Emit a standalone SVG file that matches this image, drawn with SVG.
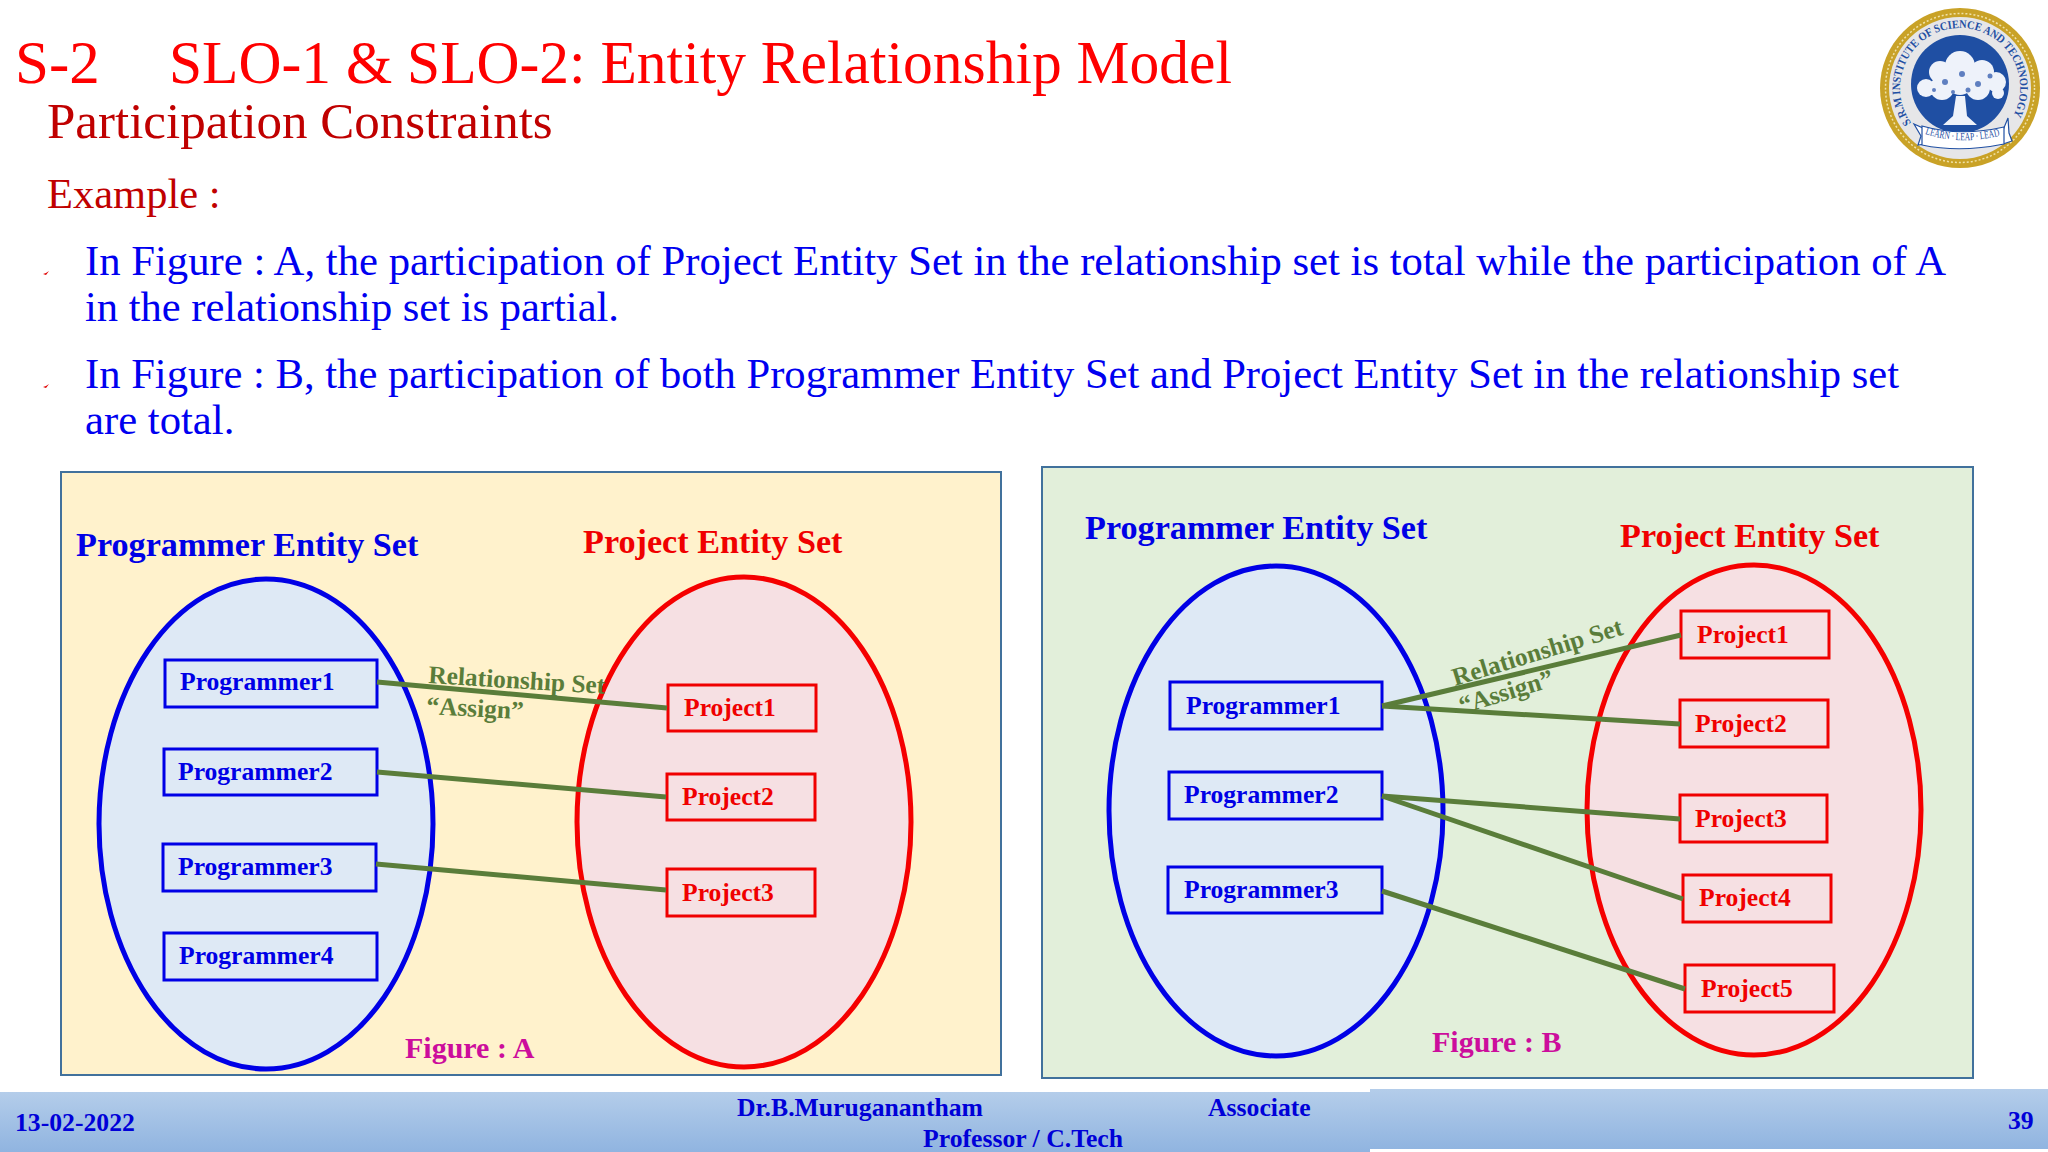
<svg xmlns="http://www.w3.org/2000/svg" width="2048" height="1152" viewBox="0 0 2048 1152">
<style>
text{font-family:"Liberation Serif","Times New Roman",serif}
.t{fill:#fe0000;font-size:61px}
.s{fill:#c00000;font-size:51px}
.e{fill:#c00000;font-size:42.5px}
.b{fill:#0000f0;font-size:42.7px}
.h{font-size:34.2px;font-weight:bold}
.n{font-size:25.6px;font-weight:bold}
.bl{fill:#0000e6}.rd{fill:#f00000}
.pe{fill:#dee9f5;stroke:#0000e6;stroke-width:5}
.re{fill:#f6e0e3;stroke:#f50000;stroke-width:5}
.pb{fill:none;stroke:#0000e6;stroke-width:3}
.rb{fill:none;stroke:#f00000;stroke-width:3}
.c{stroke:#5a7d3a;stroke-width:5;fill:none}
.lab{fill:#5a7d3a;font-size:25.4px;font-weight:bold}
.fig{fill:#cc0d9c;font-size:30px;font-weight:bold}
.f{fill:#0000d8;font-size:25.7px;font-weight:bold}
.panel{stroke:#41719c;stroke-width:2}
</style>
<defs>
<linearGradient id="fg" x1="0" y1="0" x2="0" y2="1"><stop offset="0" stop-color="#b4cdea"/><stop offset="1" stop-color="#90b4e0"/></linearGradient>
<path id="arc" d="M1911.2 122.8A60 60 0 1 1 2012 118"/>
<path id="rib" d="M1925 134Q1962 146 2003 135"/>
</defs>
<rect width="2048" height="1152" fill="#fff"/>
<g id="header">
<text class="t" x="15" y="83">S-2</text>
<text class="t" x="169" y="83" textLength="1063" lengthAdjust="spacingAndGlyphs">SLO-1 &amp; SLO-2: Entity Relationship Model</text>
<text class="s" x="47" y="138">Participation Constraints</text>
<text class="e" x="47" y="208">Example :</text>
<path d="M43 274l3 1 3-4-3 2z" fill="#e00000"/>
<path d="M43 387l3 1 3-4-3 2z" fill="#e00000"/>
<text class="b" x="85" y="275" textLength="1861" lengthAdjust="spacingAndGlyphs">In Figure : A, the participation of Project Entity Set in the relationship set is total while the participation of A</text>
<text class="b" x="85" y="321" textLength="534" lengthAdjust="spacingAndGlyphs">in the relationship set is partial.</text>
<text class="b" x="85" y="388" textLength="1814" lengthAdjust="spacingAndGlyphs">In Figure : B, the participation of both Programmer Entity Set and Project Entity Set in the relationship set</text>
<text class="b" x="85" y="434">are total.</text>
</g>
<g id="logo">
<circle cx="1960" cy="88" r="80" fill="#c9a227"/>
<circle cx="1960" cy="88" r="74.5" fill="none" stroke="#f0e2a8" stroke-width="1.5" stroke-dasharray="2 2"/>
<circle cx="1960" cy="88" r="71" fill="#e6e6e8"/>
<circle cx="1960" cy="84" r="49" fill="#1f4fa3"/>
<g fill="#eef2fa">
<circle cx="1960" cy="66" r="15"/><circle cx="1940" cy="72" r="11"/><circle cx="1982" cy="72" r="12"/><circle cx="1926" cy="88" r="9"/><circle cx="1996" cy="82" r="10"/><circle cx="1942" cy="88" r="12"/><circle cx="1978" cy="88" r="12"/><circle cx="1960" cy="82" r="13"/><circle cx="1998" cy="93" r="6"/>
<path d="M1956 96h9l2 20 10 9h-34l10-9z"/>
</g>
<g fill="#5f7fc0"><circle cx="1945" cy="82" r="3"/><circle cx="1962" cy="74" r="3"/><circle cx="1978" cy="84" r="3"/><circle cx="1934" cy="90" r="2"/><circle cx="1990" cy="76" r="2.5"/><circle cx="1953" cy="92" r="2"/><circle cx="1968" cy="90" r="2.5"/></g>
<path d="M1914 124l11 5v15l-7 1 3-9z" fill="#fff" stroke="#1f4fa3" stroke-width="1.2"/>
<path d="M2008 118l-5 12v14l9-3-3-8z" fill="#fff" stroke="#1f4fa3" stroke-width="1.2"/>
<path d="M1922 126q38 11 82 1v17q-44 9-82 1z" fill="#fff" stroke="#1f4fa3" stroke-width="1.2"/>
<text fill="#1f4fa3" style="font-size:11px"><textPath href="#rib" textLength="76" lengthAdjust="spacingAndGlyphs">LEARN · LEAP · LEAD</textPath></text>
<text fill="#1f4fa3" font-weight="bold" style="font-size:11.5px"><textPath href="#arc" textLength="254" lengthAdjust="spacingAndGlyphs">S.R.M INSTITUTE OF SCIENCE AND TECHNOLOGY</textPath></text>
</g>
<g id="figure-a">
<rect class="panel" x="61" y="472" width="940" height="603" fill="#fff2cc"/>
<text class="h bl" x="76" y="556">Programmer Entity Set</text>
<text class="h rd" x="583" y="553">Project Entity Set</text>
<text class="fig" x="405" y="1058">Figure : A</text>
<g id="a-programmer-set"><ellipse class="pe" cx="266" cy="824" rx="167" ry="245"/></g>
<g id="a-project-set"><ellipse class="re" cx="744" cy="822" rx="167" ry="245"/></g>
<g id="a-programmer1"><rect class="pb" x="165" y="660" width="212" height="47"/><text class="n bl" x="180" y="690">Programmer1</text></g>
<g id="a-programmer2"><rect class="pb" x="164" y="749" width="213" height="46"/><text class="n bl" x="178" y="780">Programmer2</text></g>
<g id="a-programmer3"><rect class="pb" x="163" y="844" width="213" height="47"/><text class="n bl" x="178" y="875">Programmer3</text></g>
<g id="a-programmer4"><rect class="pb" x="164" y="933" width="213" height="47"/><text class="n bl" x="179" y="964">Programmer4</text></g>
<g id="a-project1"><rect class="rb" x="668" y="685" width="148" height="46"/><text class="n rd" x="684" y="716">Project1</text></g>
<g id="a-project2"><rect class="rb" x="667" y="774" width="148" height="46"/><text class="n rd" x="682" y="805">Project2</text></g>
<g id="a-project3"><rect class="rb" x="667" y="869" width="148" height="47"/><text class="n rd" x="682" y="901">Project3</text></g>
<text class="lab" transform="translate(428 683) rotate(3.5)">Relationship Set</text>
<text class="lab" transform="translate(426 714) rotate(3)">“Assign”</text>
</g>
<g id="figure-b">
<rect class="panel" x="1042" y="467" width="931" height="611" fill="#e2efda"/>
<text class="h bl" x="1085" y="539">Programmer Entity Set</text>
<text class="h rd" x="1620" y="547">Project Entity Set</text>
<text class="fig" x="1432" y="1052">Figure : B</text>
<g id="b-programmer-set"><ellipse class="pe" cx="1276" cy="811" rx="167" ry="245"/></g>
<g id="b-project-set"><ellipse class="re" cx="1754" cy="810" rx="167" ry="245"/></g>
<g id="b-programmer1"><rect class="pb" x="1170" y="682" width="212" height="47"/><text class="n bl" x="1186" y="714">Programmer1</text></g>
<g id="b-programmer2"><rect class="pb" x="1169" y="772" width="213" height="47"/><text class="n bl" x="1184" y="803">Programmer2</text></g>
<g id="b-programmer3"><rect class="pb" x="1168" y="867" width="214" height="46"/><text class="n bl" x="1184" y="898">Programmer3</text></g>
<g id="b-project1"><rect class="rb" x="1681" y="611" width="148" height="47"/><text class="n rd" x="1697" y="643">Project1</text></g>
<g id="b-project2"><rect class="rb" x="1680" y="700" width="148" height="47"/><text class="n rd" x="1695" y="732">Project2</text></g>
<g id="b-project3"><rect class="rb" x="1680" y="795" width="147" height="47"/><text class="n rd" x="1695" y="827">Project3</text></g>
<g id="b-project4"><rect class="rb" x="1683" y="875" width="148" height="47"/><text class="n rd" x="1699" y="906">Project4</text></g>
<g id="b-project5"><rect class="rb" x="1685" y="965" width="149" height="47"/><text class="n rd" x="1701" y="997">Project5</text></g>
<text class="lab" transform="translate(1455 686) rotate(-17)">Relationship Set</text>
<text class="lab" transform="translate(1462 714) rotate(-17)">“Assign”</text>
</g>
<g id="connectors">
<path class="c" d="M377 682L667 708"/>
<path class="c" d="M377 772L666 797"/>
<path class="c" d="M376 864L666 890"/>
<path class="c" d="M1382 706L1681 635"/>
<path class="c" d="M1382 706L1680 724"/>
<path class="c" d="M1382 796L1680 819"/>
<path class="c" d="M1382 796L1683 899"/>
<path class="c" d="M1382 891L1685 989"/>
</g>
<g id="footer">
<rect x="1370" y="1089" width="678" height="60" fill="url(#fg)"/>
<rect x="0" y="1092" width="1370" height="60" fill="url(#fg)"/>
<text class="f" x="15" y="1131">13-02-2022</text>
<text class="f" x="737" y="1116">Dr.B.Muruganantham</text>
<text class="f" x="1208" y="1116">Associate</text>
<text class="f" x="923" y="1147">Professor / C.Tech</text>
<text class="f" x="2008" y="1129">39</text>
</g>
</svg>
